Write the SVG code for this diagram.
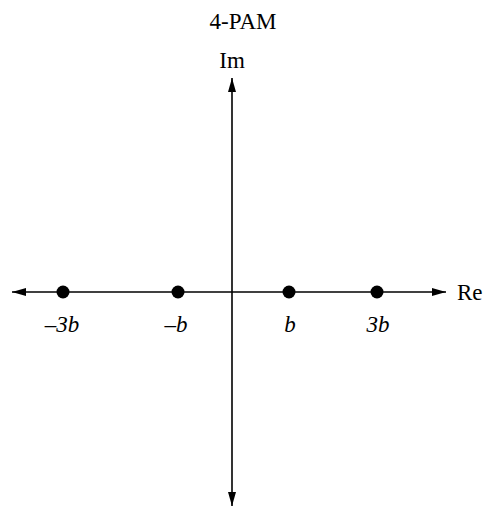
<svg xmlns="http://www.w3.org/2000/svg" width="489" height="508" viewBox="0 0 489 508">
<style>
text{font-family:"Liberation Serif","Times New Roman",serif;font-size:23px;fill:#000}
.it{font-style:italic}
.ax{stroke:#000;stroke-width:1.6;fill:none}
.pt{fill:#000}
</style>
<defs>
<marker id="ah" viewBox="0 0 14 8" refX="14" refY="4" markerWidth="14" markerHeight="8" markerUnits="userSpaceOnUse" orient="auto">
<path d="M0,0 L14,4 L0,8 Z" fill="#000"/>
</marker>
</defs>
<g id="connectors">
<line class="ax" x1="232" y1="292" x2="12" y2="292" marker-end="url(#ah)"/>
<line class="ax" x1="232" y1="292" x2="446" y2="292" marker-end="url(#ah)"/>
<line class="ax" x1="232" y1="292" x2="232" y2="78" marker-end="url(#ah)"/>
<line class="ax" x1="232" y1="292" x2="232" y2="506" marker-end="url(#ah)"/>
</g>
<g id="title"><text x="243" y="29" text-anchor="middle">4-PAM</text></g>
<g id="im"><text x="232" y="68" text-anchor="middle">Im</text></g>
<g id="re"><text x="457" y="300">Re</text></g>
<g id="p1"><circle class="pt" cx="63" cy="292" r="6.5"/><text class="it" x="62" y="332" text-anchor="middle">–3b</text></g>
<g id="p2"><circle class="pt" cx="178" cy="292" r="6.5"/><text class="it" x="176" y="332" text-anchor="middle">–b</text></g>
<g id="p3"><circle class="pt" cx="289" cy="292" r="6.5"/><text class="it" x="290" y="332" text-anchor="middle">b</text></g>
<g id="p4"><circle class="pt" cx="377" cy="292" r="6.5"/><text class="it" x="378" y="332" text-anchor="middle">3b</text></g>
</svg>
